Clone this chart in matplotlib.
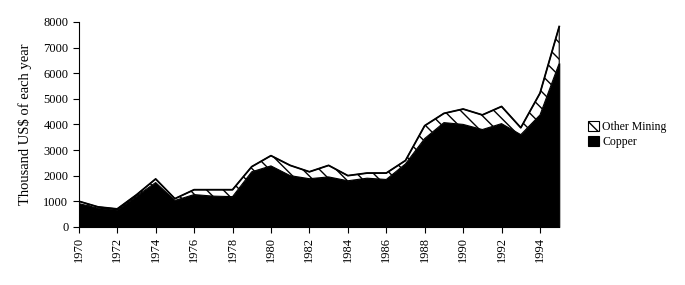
import matplotlib
matplotlib.use("Agg")
import matplotlib.pyplot as plt
import numpy as np

plt.rcParams['font.family'] = ['Liberation Serif', 'DejaVu Serif']
plt.rcParams['hatch.linewidth'] = 1.0

years = np.arange(1970, 1996)
copper = [910, 730, 670, 1200, 1730, 1030, 1260, 1200, 1180, 2150, 2380, 2000, 1880, 1950,
          1800, 1900, 1850, 2460, 3450, 4070, 4000, 3800, 4030, 3600, 4370, 6390]
total = [1000, 780, 700, 1250, 1870, 1100, 1450, 1450, 1450, 2350, 2780, 2400, 2150, 2400,
         2000, 2100, 2100, 2590, 3950, 4430, 4600, 4370, 4700, 3870, 5220, 7820]
xticks = np.arange(1970, 1995, 2)
yticks = np.arange(0, 8001, 1000)

fig = plt.figure(figsize=(6.85, 2.85), dpi=100)
ax = fig.add_axes([0.115, 0.204, 0.707, 0.719])

ax.fill_between(years, 0, copper, facecolor='black', edgecolor='black', lw=0.8, label='Copper')
ax.fill_between(years, copper, total, facecolor='white', edgecolor='black', hatch='\\\\',
                lw=0.8, label='Other Mining')
ax.plot(years, total, color='black', lw=1.3)

ax.set_xlim(1970, 1995.2)
ax.set_ylim(0, 8000)
ax.set_xticks(xticks)
ax.set_xticklabels([str(y) for y in xticks], rotation=90, fontsize=9)
ax.set_yticks(yticks)
ax.set_yticklabels([str(v) for v in yticks], fontsize=9)
ax.set_ylabel("Thousand US\\$ of each year", fontsize=10.5, labelpad=8)
ax.spines['top'].set_visible(False)
ax.spines['right'].set_visible(False)
ax.spines['bottom'].set_bounds(1970, 1995)
ax.tick_params(direction='out', length=4, width=0.8)

h, l = ax.get_legend_handles_labels()
ax.legend(h[::-1], l[::-1], loc='center left', bbox_to_anchor=(1.03, 0.45), frameon=False,
          fontsize=8.5, handlelength=0.9, handleheight=0.9, handletextpad=0.3, labelspacing=0.2)

fig.savefig("out.png", dpi=100)
